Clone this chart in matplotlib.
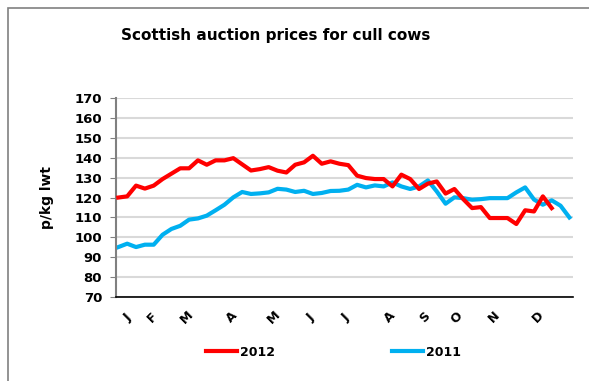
import matplotlib.pyplot as plt
from matplotlib.patches import Rectangle

# Weekly prices, p/kg lwt
prices_2012 = [120, 120.6, 126, 124.5, 126, 129.3, 132, 134.7, 134.7, 138.7,
               136.5, 138.7, 138.7, 139.8, 136.7, 133.6, 134.3, 135.3, 133.5, 132.6,
               136.5, 137.7, 141, 137, 138.2, 137, 136.3, 131, 129.8, 129.3,
               129.3, 125.6, 131.5, 129.3, 124.3, 127, 128.1, 122, 124.3, 119.2,
               114.7, 115.2, 109.7, 109.7, 109.7, 106.7, 113.6, 113, 120.6, 114.7]
prices_2011 = [95.1, 96.8, 95.1, 96.3, 96.3, 101.3, 104.2, 105.8, 108.9, 109.5,
               110.9, 113.6, 116.4, 120.1, 122.8, 121.8, 122.1, 122.6, 124.4, 124,
               122.8, 123.4, 121.8, 122.3, 123.3, 123.4, 124, 126.4, 125.1, 126.1,
               125.6, 127.6, 125.6, 124.3, 125.6, 128.6, 123.1, 116.9, 120.1, 119.7,
               118.9, 119.2, 119.7, 119.7, 119.7, 122.6, 125.1, 119, 116.4, 118.6,
               115.9, 110]
month_labels = ['J', 'F', 'M', 'A', 'M', 'J', 'J', 'A', 'S', 'O', 'N', 'D']
month_weeks = [1.0, 3.8, 7.7, 12.8, 17.6, 21.8, 25.7, 30.7, 34.7, 38.3, 42.5, 47.5]

fig = plt.figure(figsize=(5.89, 3.81), dpi=100)
fig.patches.append(Rectangle((8 / 589, -0.1), 1.2, 1 - 8 / 381 + 0.1,
                             transform=fig.transFigure, fill=False,
                             edgecolor='#808080', linewidth=1.2))

ax = fig.add_axes([0.197, 0.2205, 0.776, 0.522])
ax.plot(range(len(prices_2012)), prices_2012, color='#FF0000', lw=3,
        label='2012', zorder=3)
ax.plot(range(len(prices_2011)), prices_2011, color='#00B0F0', lw=3,
        label='2011', zorder=2)

ax.set_ylim(70, 170)
ax.set_xlim(-0.26, 51.42)
ax.set_yticks(range(70, 171, 10))
ax.grid(axis='y', color='#d9d9d9', lw=1.5)
ax.set_axisbelow(True)
ax.tick_params(axis='y', length=4, color='#808080', labelsize=9.5, pad=6)
for t in ax.get_yticklabels():
    t.set_fontweight('bold')

# month initials under the weekly axis
ax.set_xticks([])
for wk, lab in zip(month_weeks, month_labels):
    ax.text(wk, 59.8, lab, rotation=45, ha='center', va='center',
            fontsize=9, fontweight='bold')

for side in ['top', 'right']:
    ax.spines[side].set_visible(False)
ax.spines['left'].set_color('#808080')
ax.spines['left'].set_linewidth(1.5)
ax.spines['bottom'].set_color('black')
ax.spines['bottom'].set_linewidth(1.2)

ax.set_ylabel('p/kg lwt', fontsize=10, fontweight='bold', labelpad=15)
fig.text(0.468, 0.908, 'Scottish auction prices for cull cows',
         ha='center', va='center', fontsize=11, fontweight='bold')

fig.legend(loc='center', bbox_to_anchor=(0.566, 0.076), ncol=2, frameon=False,
           handlelength=2.5, handletextpad=0.2, columnspacing=9.4,
           prop={'weight': 'bold', 'size': 9})

fig.savefig('out.png', dpi=100)
